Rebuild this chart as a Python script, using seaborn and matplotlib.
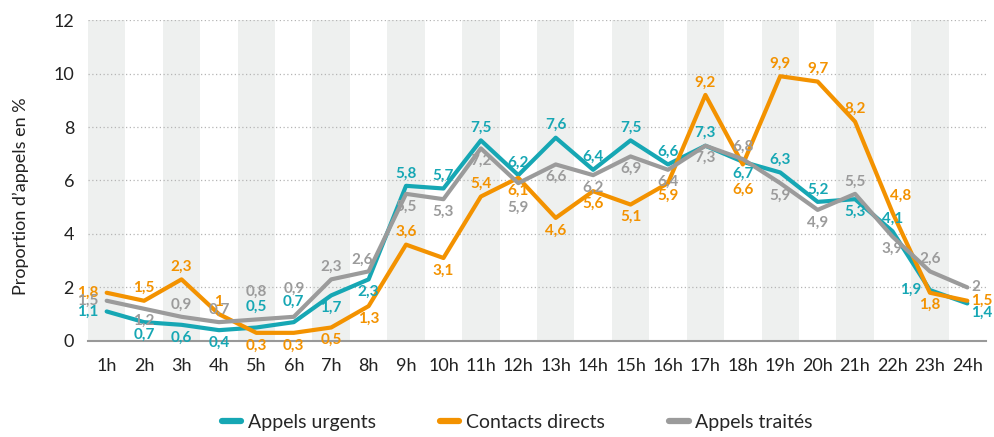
import numpy as np
import pandas as pd
import matplotlib
matplotlib.use("Agg")
import matplotlib.pyplot as plt
import seaborn as sns

heures = [f"{h}h" for h in range(1, 25)]
appels_urgents = [1.1, 0.7, 0.6, 0.4, 0.5, 0.7, 1.7, 2.3, 5.8, 5.7, 7.5, 6.2,
                  7.6, 6.4, 7.5, 6.6, 7.3, 6.7, 6.3, 5.2, 5.3, 4.1, 1.9, 1.4]
contacts_directs = [1.8, 1.5, 2.3, 1, 0.3, 0.3, 0.5, 1.3, 3.6, 3.1, 5.4, 6.1,
                    4.6, 5.6, 5.1, 5.9, 9.2, 6.6, 9.9, 9.7, 8.2, 4.8, 1.8, 1.5]
appels_traites = [1.5, 1.2, 0.9, 0.7, 0.8, 0.9, 2.3, 2.6, 5.5, 5.3, 7.2, 5.9,
                  6.6, 6.2, 6.9, 6.4, 7.3, 6.8, 5.9, 4.9, 5.5, 3.9, 2.6, 2]

series = ["Appels urgents", "Contacts directs", "Appels traités"]
couleurs = ["#16a7b4", "#f39200", "#9b9b9b"]

# where each value label sits: a above, A higher, H highest, b below,
# B further below, l left, r right, c right-below, e above-right, f above-left
pos_urg = "lbbbAAbbaaaaaaaaabaabalc"
pos_con = "laaabbbbababbbbbaBaaaebr"
pos_tra = "lbaaHHafbbbBbbbbbabbabar"

df = pd.DataFrame({
    "heure": list(range(1, 25)) * 3,
    "valeur": appels_urgents + contacts_directs + appels_traites,
    "serie": np.repeat(series, 24),
})

sns.set_style("white")
plt.rcParams["font.family"] = ["Lato", "DejaVu Sans"]

fig, ax = plt.subplots(figsize=(9.95, 4.37), dpi=100)
fig.subplots_adjust(left=0.0884, right=0.991, bottom=0.22, top=0.954)

# alternate grey bands
for h in range(1, 25, 2):
    ax.axvspan(h - 0.5, h + 0.5, color="#eef0ef", zorder=0, lw=0)

for y in range(2, 13, 2):
    ax.axhline(y, color="#b5b5b5", lw=0.9, ls=(0, (1, 2)), zorder=1)

sns.lineplot(data=df, x="heure", y="valeur", hue="serie", palette=couleurs,
             linewidth=3.0, ax=ax, zorder=3, legend=True)

offsets = {"a": (0, 9), "A": (0, 15), "H": (0, 20), "b": (0, -9),
           "B": (0, -18), "l": (-6, 0), "r": (3, 0), "c": (3, -7),
           "e": (6, 12), "f": (-5, 8)}
align = {"l": "right", "r": "left", "c": "left"}
for vals, pos, col in zip([appels_urgents, contacts_directs, appels_traites],
                          [pos_urg, pos_con, pos_tra], couleurs):
    for i, (v, p) in enumerate(zip(vals, pos)):
        txt = f"{v:g}".replace(".", ",")
        ax.annotate(txt, (i + 1, v), xytext=offsets[p], textcoords="offset points",
                    ha=align.get(p, "center"), va="center", color=col,
                    fontsize=11, fontweight="bold", zorder=5,
                    annotation_clip=False)

ax.set_xlim(0.5, 24.5)
ax.set_ylim(0, 12)
ax.set_xticks(range(1, 25))
ax.set_xticklabels(heures)
ax.set_yticks(range(0, 13, 2))
ax.tick_params(axis="both", length=0, labelsize=13, colors="#222222")
ax.tick_params(axis="y", pad=10)
ax.tick_params(axis="x", pad=12)
ax.set_xlabel("")
ax.set_ylabel("Proportion d’appels en %", fontsize=13, color="#222222")
ax.yaxis.set_label_coords(-0.066, 0.45)

for s in ["top", "right", "left"]:
    ax.spines[s].set_visible(False)
ax.spines["bottom"].set_color("#999999")
ax.spines["bottom"].set_linewidth(1.5)
ax.spines["bottom"].set_zorder(2)

handles, labels = ax.get_legend_handles_labels()
for h in handles:
    h.set_linewidth(4.5)
    h.set_solid_capstyle("round")
ax.legend(handles, labels, loc="center", bbox_to_anchor=(0.478, -0.255),
          ncol=3, frameon=False, fontsize=14, handlelength=1.0,
          columnspacing=3.3, handletextpad=0.35)

fig.savefig("out.png", dpi=100)
